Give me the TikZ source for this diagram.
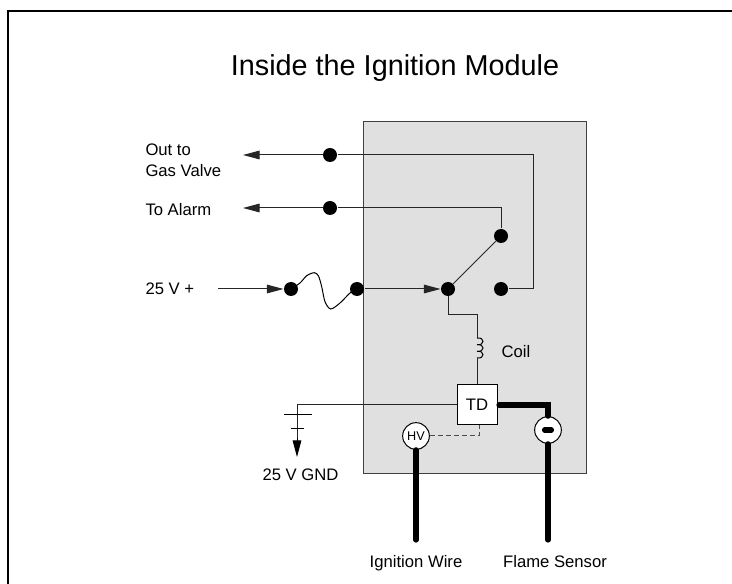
\documentclass[tikz,border=0pt]{standalone}
\usepackage{fontspec}
\setmainfont{Liberation Sans}
\usetikzlibrary{arrows.meta}
\begin{document}
\begin{tikzpicture}[x=0.75pt, y=-0.75pt, line width=0.75pt, >={Triangle[length=12.5pt,width=6.5pt]}, font=\fontsize{12.5}{15.4}\selectfont]
	\tikzset{dot/.style={circle, fill=black, inner sep=0pt, minimum size=10.5pt}}
	\tikzset{wire/.style={draw=black!85}}
	\tikzset{thick wire/.style={line width=3.9pt, line cap=round}}
	\tikzset{ring/.style={circle, draw, fill=white, inner sep=0pt, minimum size=20pt}}
	\tikzset{tag/.style={inner sep=0pt, anchor=base}}
	\useasboundingbox (0,0) rectangle (732,584);
	\draw[line width=1.5pt] (8,584)--(8,11)--(732,11);
	\node[tag, font=\fontsize{21.6}{24}\selectfont] (title) at (395,76){Inside the Ignition Module};
	\draw[fill=black!12, draw=black!75] (363,122) rectangle (586,474);
	% dots
	\node[dot] (gas) at (330,155){};
	\node[dot] (alarm) at (330,208){};
	\node[dot] (inA) at (291,289){};
	\node[dot] (inB) at (357,289){};
	\node[dot] (com) at (448,289){};
	\node[dot] (nc) at (501,236){};
	\node[dot] (no) at (501,289){};
	% free ends
	\coordinate (gasEnd) at (243,155);
	\coordinate (alarmEnd) at (243,208);
	\coordinate (inEnd) at (218,289);
	\coordinate (gndTop) at (297,405);
	\coordinate (gndEnd) at (297,457);
	\coordinate (coilTop) at (477,338);
	\coordinate (coilBot) at (477,358);
	\coordinate (ignEnd) at (416,540);
	\coordinate (flameEnd) at (548,540);
	% relay wiring
	\draw[wire, ->] (gas)--(gasEnd);
	\draw[wire, ->] (alarm)--(alarmEnd);
	\draw[wire] (gas)-|(533,289)--(no);
	\draw[wire] (alarm)-|(nc);
	\draw[wire, ->] (inEnd)--(inA);
	\draw[wire, ->] (inB)--(com);
	\draw[wire] (com)--(nc);
	\draw plot[smooth] coordinates {(inA.center) (300,283) (306.7,275.7) (314.3,272.7) (318.5,276) (321.7,286.7) (325,301.7) (330.7,309) (340,303) (350,293) (inB.center)};
	% coil and TD
	\node[draw, fill=white, minimum size=30pt, inner sep=0pt] (td) at (477,405){TD};
	\node[tag, anchor=base west] (coil) at (501,358){Coil};
	\draw[wire] (com)|-(477,315)--(coilTop);
	\foreach \y in {338,344.67,351.33}
		\draw (477,\y) .. controls (485,{\y-1}) and (485,{\y+7.67}) .. (477,{\y+6.67});
	\draw[wire] (coilBot)--(td.north);
	% ground
	\draw[wire] (td.west)--(gndTop)--(297,440);
	\draw[->] (297,438)--(gndEnd);
	\draw (284,415)--(312,415);
	\draw (291,429)--(304,429);
	\node[tag] (gnd) at (300.5,480){25 V GND};
	% HV and flame sensor
	\node[ring, font=\fontsize{9.5}{12}\selectfont] (hv) at (416,436){HV};
	\node[ring] (sensor) at (548,430){};
	\draw[line width=3.8pt, line cap=round] (544.5,430)--(551.5,430);
	\draw[dash pattern=on 3.5pt off 2.5pt, draw=black!70] (hv.east)--(479,436)--(479,425);
	\draw[thick wire] (499,405)-|(sensor.north);
	\draw[thick wire] (sensor.south)--(flameEnd);
	\draw[thick wire] (hv.south)--(ignEnd);
	% labels
	\node[inner sep=0pt, anchor=west, align=left] (gasTag) at (145,160.5){Out to\\Gas Valve};
	\node[tag, anchor=base west] (alarmTag) at (145,216){To Alarm};
	\node[tag, anchor=base west] (inTag) at (145,295){25 V +};
	\node[tag] (ignTag) at (416,567){Ignition Wire};
	\node[tag] (flameTag) at (555,567){Flame Sensor};
\end{tikzpicture}
\end{document}
